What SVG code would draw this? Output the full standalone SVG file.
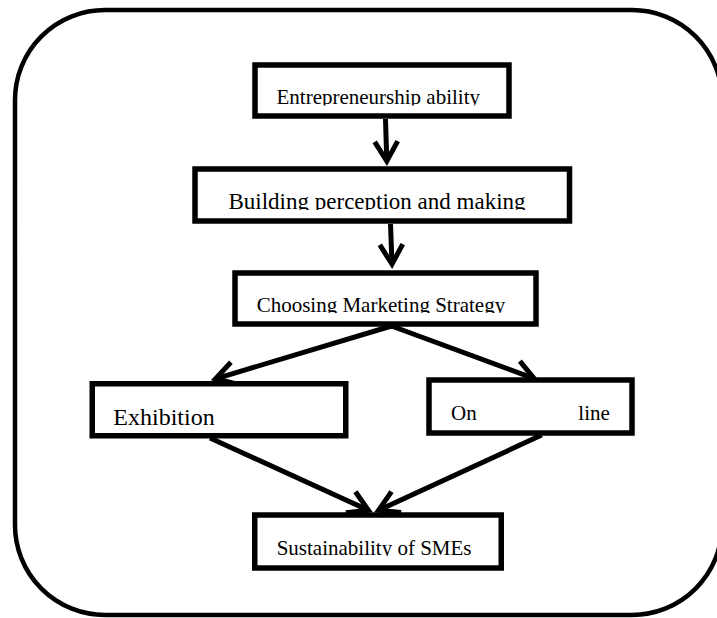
<svg xmlns="http://www.w3.org/2000/svg" width="717" height="618" viewBox="0 0 717 618">
<style>
.box{fill:#fff;stroke:#000;stroke-width:5.5}
.lbl{font-family:"Liberation Serif","Times New Roman",serif;fill:#000}
.conn{stroke:#000;stroke-width:5;fill:none}
</style>
<defs>
<marker id="arr" markerUnits="userSpaceOnUse" markerWidth="40" markerHeight="40" viewBox="-30 -20 40 40" refX="0" refY="0" orient="auto" overflow="visible">
<path d="M-19.5,-11.5 L0,0 L-19.5,11.5" fill="none" stroke="#000" stroke-width="5" stroke-linejoin="miter"/>
</marker>
<clipPath id="c1"><rect x="240" y="60" width="280" height="45.5"/></clipPath>
<clipPath id="c2"><rect x="190" y="160" width="390" height="50"/></clipPath>
<clipPath id="c3"><rect x="230" y="265" width="310" height="48"/></clipPath>
<clipPath id="c6"><rect x="250" y="505" width="260" height="51"/></clipPath>
</defs>
<rect width="717" height="618" fill="#fff"/>
<rect x="15" y="10" width="707" height="605" rx="90" ry="90" fill="none" stroke="#000" stroke-width="4.5"/>
<g id="connectors">
<line class="conn" x1="385.5" y1="119" x2="386.8" y2="161" marker-end="url(#arr)"/>
<line class="conn" x1="390.5" y1="224" x2="392" y2="264" marker-end="url(#arr)"/>
<line class="conn" x1="391.5" y1="326" x2="215.5" y2="378.8" marker-end="url(#arr)"/>
<line class="conn" x1="391.5" y1="326" x2="534.2" y2="378.6" marker-end="url(#arr)"/>
<line class="conn" x1="210" y1="438" x2="368.4" y2="510.3" marker-end="url(#arr)"/>
<line class="conn" x1="541.7" y1="435" x2="378.6" y2="510.3" marker-end="url(#arr)"/>
</g>
<g id="node-entrepreneurship">
<rect class="box" x="255" y="65" width="254" height="51"/>
<text class="lbl" x="276.5" y="104" font-size="21" clip-path="url(#c1)">Entrepreneurship ability</text>
</g>
<g id="node-building">
<rect class="box" x="195" y="169" width="374.5" height="52"/>
<text class="lbl" x="228.5" y="208.5" font-size="23" clip-path="url(#c2)">Building perception and making</text>
</g>
<g id="node-choosing">
<rect class="box" x="235" y="273" width="301" height="51"/>
<text class="lbl" x="256.7" y="311.7" font-size="21" clip-path="url(#c3)">Choosing Marketing Strategy</text>
</g>
<g id="node-exhibition">
<rect class="box" x="92.25" y="383.75" width="253.5" height="52"/>
<text class="lbl" x="113.3" y="425" font-size="24">Exhibition</text>
</g>
<g id="node-online">
<rect class="box" x="429" y="380" width="203" height="53"/>
<text class="lbl" x="451" y="420" font-size="21" word-spacing="96.4">On line</text>
</g>
<g id="node-sustainability">
<rect class="box" x="254.75" y="515" width="246.5" height="53"/>
<text class="lbl" x="276.7" y="555" font-size="21" clip-path="url(#c6)">Sustainability of SMEs</text>
</g>
</svg>
